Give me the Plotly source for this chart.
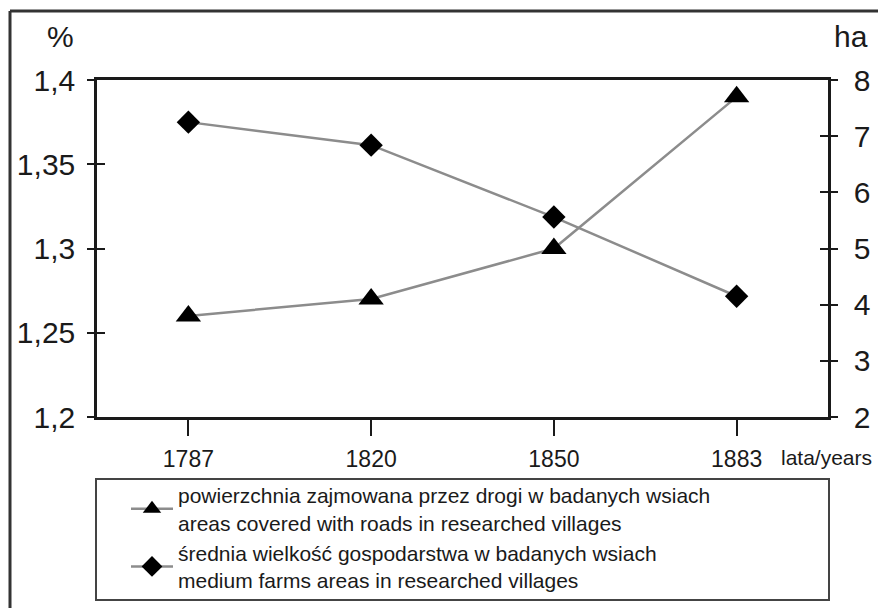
import plotly.graph_objects as go

years = ["1787", "1820", "1850", "1883"]
roads_pct = [1.26, 1.27, 1.30, 1.39]
farm_ha = [7.25, 6.84, 5.56, 4.15]

roads_name = "powierzchnia zajmowana przez drogi w badanych wsiach<br>areas covered with roads in researched villages"
farm_name = "średnia wielkość gospodarstwa w badanych wsiach<br>medium farms areas in researched villages"

W, H = 878, 608
L, R, T, B = 97, 50, 80, 191

sans = "Liberation Sans, Arial"
ink = "#1a1a1a"


def px_x(p):
    return (p - L) / (W - L - R)


def px_y(p):
    return (H - B - p) / (H - T - B)


fig = go.Figure()
fig.add_trace(go.Scatter(x=years, y=roads_pct, name=roads_name, yaxis="y",
                         mode="lines+markers",
                         line=dict(color="#8c8c8c", width=2.5),
                         marker=dict(symbol="triangle-up", size=22, color="black")))
fig.add_trace(go.Scatter(x=years, y=farm_ha, name=farm_name, yaxis="y2",
                         mode="lines+markers",
                         line=dict(color="#8c8c8c", width=2.5),
                         marker=dict(symbol="diamond", size=18, color="black")))

tick_font = dict(family=sans, size=30, color=ink)
axis_common = dict(showgrid=False, zeroline=False, showline=True, linecolor=ink,
                   linewidth=2.5, ticks="outside", ticklen=7, tickwidth=2, tickcolor=ink)

fig.update_layout(
    width=W, height=H,
    margin=dict(l=L, r=R, t=T, b=B, autoexpand=False),
    paper_bgcolor="white", plot_bgcolor="white",
    separators=", ",
    showlegend=True,
    xaxis=dict(type="category", range=[-0.5, 3.5], showgrid=False, zeroline=False,
               showline=True, linecolor=ink, linewidth=2.5, mirror=True,
               ticks="outside", ticklen=16, tickwidth=2, tickcolor=ink,
               ticklabelstandoff=4,
               tickfont=dict(family=sans, size=23, color=ink)),
    yaxis=dict(range=[1.2, 1.4], dtick=0.05, tickformat=".2~f", side="left",
               tickfont=tick_font, ticklabelstandoff=6, **axis_common),
    yaxis2=dict(range=[2, 8], dtick=1, side="right", overlaying="y",
                tickfont=tick_font, ticklabelstandoff=10, **axis_common),
    yaxis3=dict(range=[1.2, 1.4], dtick=0.05, overlaying="y", side="left",
                showgrid=False, zeroline=False, showline=False, showticklabels=False,
                ticks="inside", ticklen=8, tickwidth=2, tickcolor=ink),
    yaxis4=dict(range=[2, 8], dtick=1, overlaying="y", side="right",
                showgrid=False, zeroline=False, showline=False, showticklabels=False,
                ticks="inside", ticklen=8, tickwidth=2, tickcolor=ink),
    legend=dict(x=px_x(126), y=px_y(475), xanchor="left", yanchor="top",
                borderwidth=0, bgcolor="rgba(0,0,0,0)",
                font=dict(family=sans, size=21, color=ink),
                itemwidth=42, itemsizing="trace", tracegroupgap=0),
)

# dummy traces so the overlay axes render their inner ticks
fig.add_trace(go.Scatter(x=years, y=[None] * 4, yaxis="y3", showlegend=False, hoverinfo="skip"))
fig.add_trace(go.Scatter(x=years, y=[None] * 4, yaxis="y4", showlegend=False, hoverinfo="skip"))

label_font = dict(family=sans, size=30, color=ink)
fig.add_annotation(text="%", xref="paper", yref="paper", x=px_x(60), y=px_y(37),
                   xanchor="center", yanchor="middle", showarrow=False, font=label_font)
fig.add_annotation(text="ha", xref="paper", yref="paper", x=px_x(851), y=px_y(37),
                   xanchor="center", yanchor="middle", showarrow=False, font=label_font)
fig.add_annotation(text="lata/years", xref="paper", yref="paper", x=px_x(826), y=px_y(457),
                   xanchor="center", yanchor="middle", showarrow=False,
                   font=dict(family=sans, size=21, color=ink))

# legend box
fig.add_shape(type="rect", xref="paper", yref="paper", x0=px_x(96), x1=px_x(829),
              y0=px_y(479), y1=px_y(600), line=dict(color="#444444", width=2))
# outer frame of the figure
fig.add_shape(type="line", xref="paper", yref="paper", x0=px_x(10), x1=px_x(900),
              y0=px_y(11), y1=px_y(11), line=dict(color="#333333", width=3))
fig.add_shape(type="line", xref="paper", yref="paper", x0=px_x(10), x1=px_x(10),
              y0=px_y(11), y1=px_y(620), line=dict(color="#333333", width=3))

fig.write_html("out.html", config={"displayModeBar": False},
               post_script="document.body.style.margin='0px';")
